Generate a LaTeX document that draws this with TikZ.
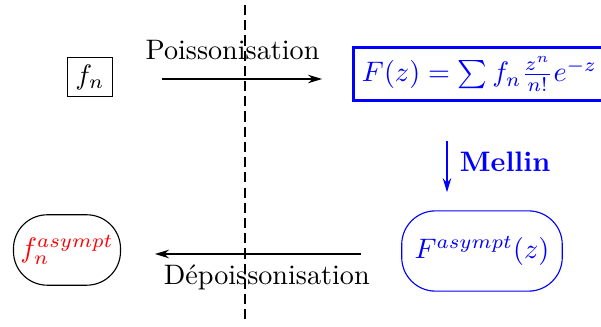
\documentclass[tikz,border=0pt]{standalone}
\usepackage{fontspec}
\usepackage{amsmath,amssymb}
\usetikzlibrary{arrows.meta,positioning,calc}
\definecolor{FigBlue}{RGB}{0,0,255}
\definecolor{FigRed}{RGB}{255,0,0}
\tikzset{
  smallbox/.style={draw,thin,minimum width=16pt,minimum height=13.8pt,inner sep=2pt},
  formulabox/.style={draw=FigBlue,line width=1.1pt,text=FigBlue,
    minimum height=19pt,inner sep=3pt,anchor=west},
  capsule/.style={draw,rounded corners=12pt,thin,inner sep=2pt},
  arrow/.style={-{Stealth[length=5pt,width=3pt]},line width=0.7pt},
  cut/.style={dash pattern=on 3.6pt off 1.8pt,line width=0.7pt}
}
\begin{document}
\begin{tikzpicture}[x=0.355pt,y=-0.355pt]
  \useasboundingbox (0,0) rectangle (601,327);
  % separation
  \coordinate (top) at (245,5);
  \coordinate (bot) at (245,322);
  \draw[cut] (top) -- (bot);
  % discrete side / Poisson side
  \node[smallbox] (fn) at (90,77) {$f_n$};
  \node[formulabox] (Fz) at (352,74) {$F(z)=\sum f_n\frac{z^n}{n!}e^{-z}$};
  \node[capsule,minimum width=38pt,minimum height=25pt] (fasym) at (67,250)
    {\color{FigRed}$f_n^{asympt}$};
  \node[capsule,draw=FigBlue,text=FigBlue,minimum width=57pt,minimum height=28.5pt]
    (Fasym) at (482,251) {$F^{asympt}(z)$};
  % transitions
  \draw[arrow,shorten <=17.4pt,shorten >=10.6pt] ($(fn.east)+(0,2)$) -- ($(fn.east -| Fz.west)+(0,2)$)
    node[midway,above=3pt] {Poissonisation};
  \coordinate (m) at (447,0);
  \draw[arrow,FigBlue,line width=0.5pt,shorten <=13.8pt,shorten >=6.4pt]
    (Fz.south -| m) -- (Fasym.north -| m)
    node[midway,right=1pt,yshift=-2pt] {\textbf{Mellin}};
  \draw[arrow,shorten <=14.2pt,shorten >=12pt] ($(Fasym.west)+(0,3)$) -- ($(fasym.east)+(0,4)$)
    node[midway,below=0pt,xshift=2pt] {Dépoissonisation};
\end{tikzpicture}
\end{document}
